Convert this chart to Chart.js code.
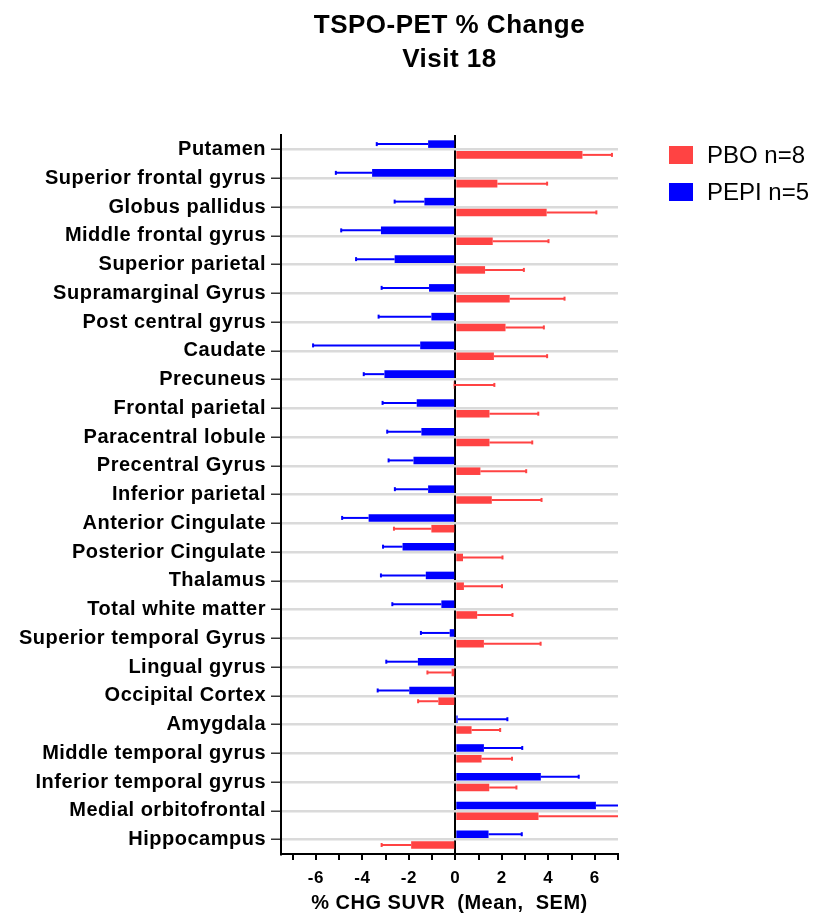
<!DOCTYPE html>
<html>
<head>
<meta charset="utf-8">
<script src="https://cdn.jsdelivr.net/npm/chart.js@4.4.1/dist/chart.umd.min.js"></script>
<style>
  html, body { margin: 0; padding: 0; background: #fff; }
  #wrap { width: 817px; height: 915px; position: relative; }
</style>
</head>
<body>
<div id="wrap"><canvas id="chart"></canvas></div>
<script>
const regions = [
  'Putamen', 'Superior frontal gyrus', 'Globus pallidus', 'Middle frontal gyrus',
  'Superior parietal', 'Supramarginal Gyrus', 'Post central gyrus', 'Caudate',
  'Precuneus', 'Frontal parietal', 'Paracentral lobule', 'Precentral Gyrus',
  'Inferior parietal', 'Anterior Cingulate', 'Posterior Cingulate', 'Thalamus',
  'Total white matter', 'Superior temporal Gyrus', 'Lingual gyrus', 'Occipital Cortex',
  'Amygdala', 'Middle temporal gyrus', 'Inferior temporal gyrus', 'Medial orbitofrontal',
  'Hippocampus'
];

// mean % change per region
const pboMean = [5.47, 1.81, 3.93, 1.61, 1.28, 2.34, 2.16, 1.66, -0.07, 1.47, 1.47, 1.08, 1.57,
  -1.03, 0.33, 0.37, 0.94, 1.23, -0.16, -0.73, 0.70, 1.13, 1.46, 3.58, -1.90];
const pepiMean = [-1.17, -3.58, -1.33, -3.20, -2.61, -1.13, -1.03, -1.51, -3.05, -1.66, -1.46, -1.80, -1.17,
  -3.73, -2.27, -1.27, -0.60, -0.24, -1.61, -1.98, 0.10, 1.23, 3.68, 6.05, 1.43];

// where each SEM whisker ends
const pboErrEnd = [6.74, 3.95, 6.07, 4.01, 2.95, 4.70, 3.81, 3.95, 1.68, 3.57, 3.31, 3.05, 3.71,
  -2.64, 2.03, 2.01, 2.46, 3.67, -1.20, -1.60, 1.93, 2.44, 2.63, 7.60, -3.17];
const pepiErrEnd = [-3.38, -5.14, -2.61, -4.91, -4.27, -3.17, -3.30, -6.12, -3.94, -3.13, -2.93, -2.87, -2.60,
  -4.87, -3.11, -3.20, -2.71, -1.48, -2.97, -3.34, 2.24, 2.88, 5.31, 7.80, 2.86];

const xTicks = [-7, -6, -5, -4, -3, -2, -1, 0, 1, 2, 3, 4, 5, 6, 7];

const RED = '#ff4343';
const BLUE = '#0000ff';
const FONT = "'Liberation Sans', Arial, sans-serif";

const errorBarsPlugin = {
  id: 'errorBars',
  afterDatasetsDraw(chart) {
    const { ctx, chartArea, scales } = chart;
    const x = scales.x;
    ctx.save();
    ctx.beginPath();
    ctx.rect(chartArea.left, chartArea.top, chartArea.width, chartArea.height);
    ctx.clip();
    chart.data.datasets.forEach((ds, di) => {
      const meta = chart.getDatasetMeta(di);
      meta.data.forEach((bar, i) => {
        const x0 = x.getPixelForValue(ds.data[i]);
        const x1 = x.getPixelForValue(ds.errEnd[i]);
        ctx.strokeStyle = ds.backgroundColor;
        ctx.lineWidth = 2;
        ctx.beginPath();
        ctx.moveTo(x0, bar.y);
        ctx.lineTo(x1, bar.y);
        ctx.stroke();
        ctx.beginPath();
        ctx.moveTo(x1, bar.y - 2);
        ctx.lineTo(x1, bar.y + 2);
        ctx.stroke();
      });
    });
    ctx.restore();
  }
};

const spacingPlugin = {
  id: 'spacing',
  beforeDraw(chart) {
    chart.ctx.letterSpacing = '0.5px';
  }
};

const sideLegendPlugin = {
  id: 'sideLegend',
  afterDraw(chart) {
    const { ctx, chartArea } = chart;
    const items = [chart.data.datasets[1], chart.data.datasets[0]];
    ctx.save();
    ctx.letterSpacing = '0px';
    ctx.font = '24px ' + FONT;
    ctx.textBaseline = 'middle';
    const left = chartArea.right + 51;
    items.forEach((ds, k) => {
      const cy = 155 + k * 37;
      ctx.fillStyle = ds.backgroundColor;
      ctx.fillRect(left, cy - 9, 24, 18);
      ctx.fillStyle = '#000';
      ctx.fillText(ds.label, left + 38, cy + 1);
    });
    ctx.restore();
  }
};

new Chart(document.getElementById('chart'), {
  type: 'bar',
  data: {
    labels: regions,
    datasets: [
      { label: 'PEPI n=5', data: pepiMean, errEnd: pepiErrEnd, backgroundColor: BLUE },
      { label: 'PBO n=8', data: pboMean, errEnd: pboErrEnd, backgroundColor: RED }
    ]
  },
  options: {
    indexAxis: 'y',
    responsive: true,
    maintainAspectRatio: false,
    animation: false,
    categoryPercentage: 0.75,
    barPercentage: 0.7,
    layout: { padding: { left: 0, right: 199, top: 0, bottom: 0 } },
    plugins: {
      legend: { display: false },
      tooltip: { enabled: false },
      title: {
        display: true,
        fullSize: false,
        text: ['TSPO-PET % Change', 'Visit 18'],
        color: '#000',
        font: { family: FONT, size: 26, weight: 'bold', lineHeight: 1.31 },
        padding: { top: 9, bottom: 58 }
      }
    },
    scales: {
      x: {
        type: 'linear',
        min: -7.5,
        max: 7,
        afterBuildTicks(scale) {
          scale.ticks = xTicks.map(v => ({ value: v }));
        },
        afterFit(scale) { scale.height = 61; },
        border: { color: '#000', width: 2 },
        grid: {
          drawOnChartArea: true,
          color: c => (c.tick && c.tick.value === 0 ? '#000' : 'rgba(0,0,0,0)'),
          lineWidth: 2,
          tickColor: '#000',
          tickWidth: 2,
          tickLength: 6
        },
        ticks: {
          autoSkip: false,
          maxRotation: 0,
          padding: 8,
          color: '#000',
          font: { family: FONT, size: 17, weight: 'bold' },
          callback: v => (v % 2 === 0 ? String(v) : '')
        },
        title: {
          display: true,
          text: '% CHG SUVR  (Mean,  SEM)',
          color: '#000',
          font: { family: FONT, size: 20, weight: 'bold' },
          padding: { top: 0, bottom: 0 }
        }
      },
      y: {
        afterFit(scale) { scale.width = 281; },
        border: { color: '#000', width: 2 },
        grid: {
          offset: false,
          color: '#dadada',
          lineWidth: 2.5,
          tickColor: '#333',
          tickWidth: 1.5,
          tickLength: 10
        },
        ticks: {
          autoSkip: false,
          padding: 5,
          color: '#000',
          font: { family: FONT, size: 20, weight: 'bold' }
        }
      }
    }
  },
  plugins: [spacingPlugin, errorBarsPlugin, sideLegendPlugin]
});
</script>
</body>
</html>
